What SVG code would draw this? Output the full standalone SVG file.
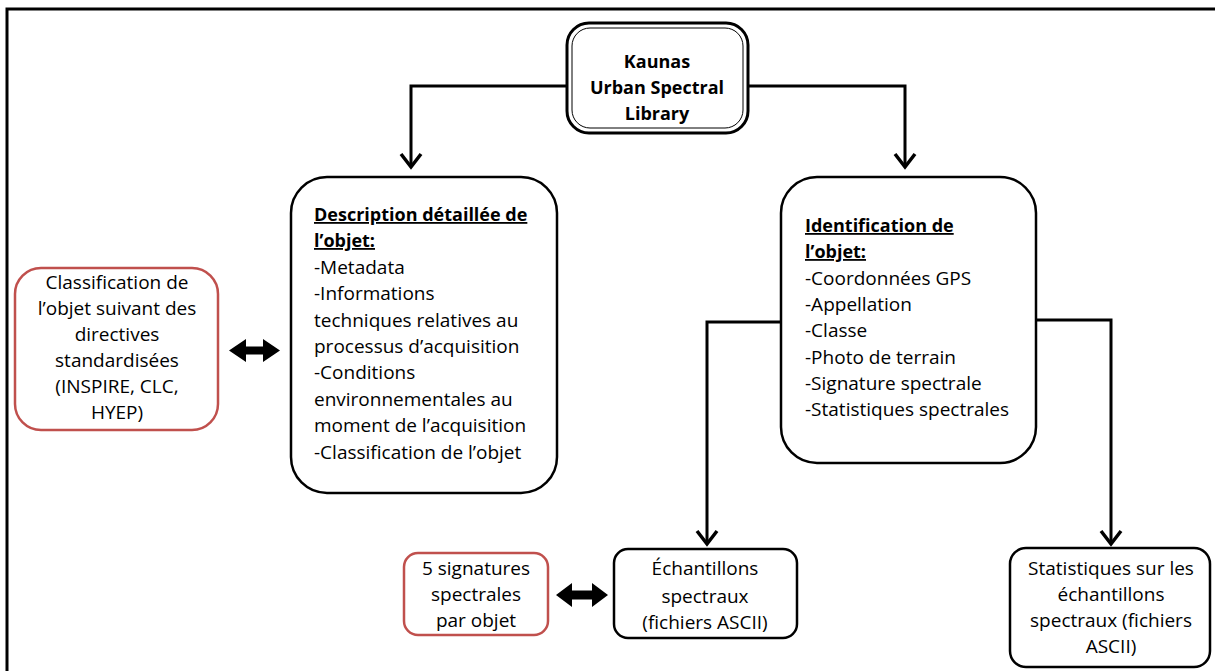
<svg xmlns="http://www.w3.org/2000/svg" width="1215" height="671" viewBox="0 0 1215 671">
<defs>
<style>
text{font-family:"Open Sans",Lato,"Liberation Sans",sans-serif;font-size:19px;fill:#000;font-variant-ligatures:none}
.c{text-anchor:middle}
.b{font-weight:bold;font-size:18px}
.u{text-decoration:underline}
.box{fill:#fff;stroke:#000;stroke-width:2.5}
.red{fill:#fff;stroke:#c0504d;stroke-width:2.5}
.con{fill:none;stroke:#000;stroke-width:3}
.dbl{fill:#000}
</style>
<marker id="ah" viewBox="0 0 20 24" refX="17" refY="12" markerWidth="20" markerHeight="24" markerUnits="userSpaceOnUse" orient="auto">
<polyline points="4,2 17,12 4,22" fill="none" stroke="#000" stroke-width="3.5"/>
</marker>
</defs>
<rect width="1215" height="671" fill="#fff"/>
<path d="M7,671 V9 H1215" fill="none" stroke="#000" stroke-width="3"/>
<g id="connectors">
<path class="con" d="M567,86 H411 V167" marker-end="url(#ah)"/>
<path class="con" d="M748,86 H905 V167" marker-end="url(#ah)"/>
<path class="con" d="M781,322 H707 V544" marker-end="url(#ah)"/>
<path class="con" d="M1036,320 H1111 V544" marker-end="url(#ah)"/>
<path class="dbl" d="M229,350.5 L246,339 V346.5 H263 V339 L280,350.5 L263,362 V354.5 H246 V362 Z"/>
<path class="dbl" d="M556,595 L572,583 V590.5 H592 V583 L608,595 L592,607 V599.5 H572 V607 Z"/>
</g>
<g id="kaunas">
<rect x="567" y="23" width="181" height="110" rx="22" fill="#fff" stroke="#000" stroke-width="3"/>
<rect x="572" y="28" width="171" height="100" rx="18" fill="none" stroke="#000" stroke-width="1"/>
<text class="c b" x="657" y="68">Kaunas</text>
<text class="c b" x="657" y="94">Urban Spectral</text>
<text class="c b" x="657" y="120">Library</text>
</g>
<g id="description">
<rect class="box" x="291" y="177" width="266" height="316" rx="36"/>
<text class="b u" x="314" y="221">Description détaillée de</text>
<text class="b u" x="314" y="247">l’objet:</text>
<text x="314" y="274">-Metadata</text>
<text x="314" y="300">-Informations</text>
<text x="314" y="327">techniques relatives au</text>
<text x="314" y="353">processus d’acquisition</text>
<text x="314" y="379">-Conditions</text>
<text x="314" y="406">environnementales au</text>
<text x="314" y="432">moment de l’acquisition</text>
<text x="314" y="459">-Classification de l’objet</text>
</g>
<g id="identification">
<rect class="box" x="781" y="177" width="255" height="286" rx="36"/>
<text class="b u" x="805" y="232">Identification de</text>
<text class="b u" x="805" y="258">l’objet:</text>
<text x="805" y="285">-Coordonnées GPS</text>
<text x="805" y="311">-Appellation</text>
<text x="805" y="337">-Classe</text>
<text x="805" y="364">-Photo de terrain</text>
<text x="805" y="390">-Signature spectrale</text>
<text x="805" y="416">-Statistiques spectrales</text>
</g>
<g id="classification">
<rect class="red" x="15" y="268" width="203" height="162" rx="26"/>
<text class="c" x="117" y="289">Classification de</text>
<text class="c" x="117" y="315">l’objet suivant des</text>
<text class="c" x="117" y="341">directives</text>
<text class="c" x="117" y="367">standardisées</text>
<text class="c" x="117" y="393">(INSPIRE, CLC,</text>
<text class="c" x="117" y="419">HYEP)</text>
</g>
<g id="signatures">
<rect class="red" x="404" y="553" width="144" height="82" rx="14"/>
<text class="c" x="476" y="575">5 signatures</text>
<text class="c" x="476" y="601">spectrales</text>
<text class="c" x="476" y="627">par objet</text>
</g>
<g id="echantillons">
<rect class="box" x="614" y="549" width="183" height="89" rx="14"/>
<text class="c" x="705" y="575">Échantillons</text>
<text class="c" x="705" y="603">spectraux</text>
<text class="c" x="705" y="629">(fichiers ASCII)</text>
</g>
<g id="statistiques">
<rect class="box" x="1010" y="548" width="200" height="119" rx="16"/>
<text class="c" x="1111" y="575">Statistiques sur les</text>
<text class="c" x="1111" y="601">échantillons</text>
<text class="c" x="1111" y="627">spectraux (fichiers</text>
<text class="c" x="1111" y="653">ASCII)</text>
</g>
</svg>
